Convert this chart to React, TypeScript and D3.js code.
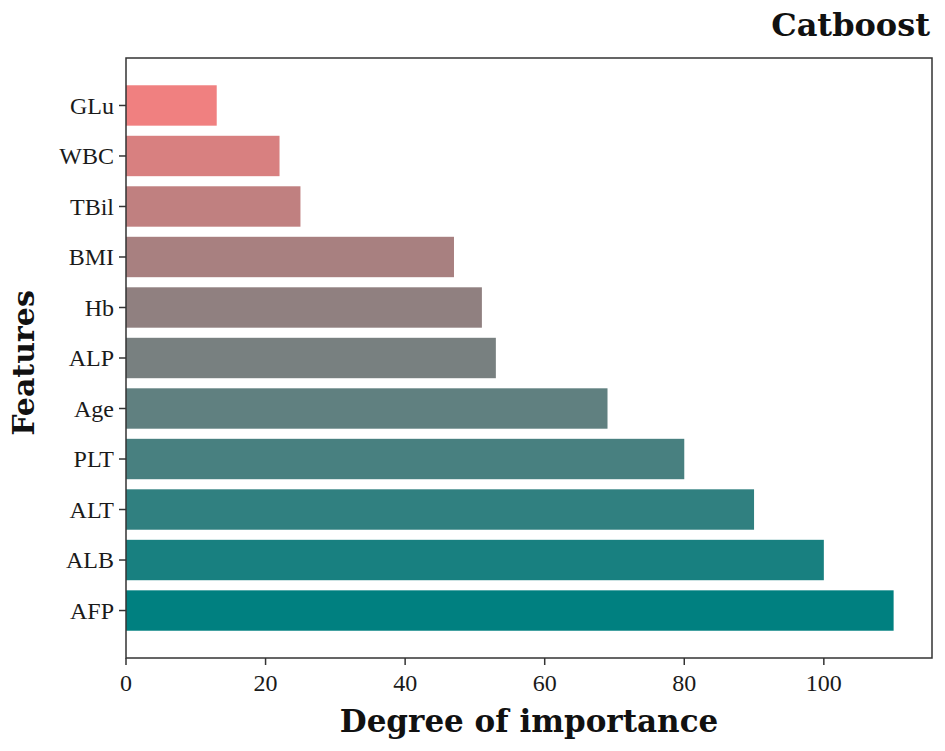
import * as d3 from "d3";

const features = ["GLu", "WBC", "TBil", "BMI", "Hb", "ALP", "Age", "PLT", "ALT", "ALB", "AFP"];
const importance = [13, 22, 25, 47, 51, 53, 69, 80, 90, 100, 110];
const xTicks = [0, 20, 40, 60, 80, 100];

const width = 945;
const height = 751;
const margin = { top: 58, right: 13, bottom: 93, left: 126 };

export default function App() {
  const innerW = width - margin.left - margin.right;
  const innerH = height - margin.top - margin.bottom;

  const maxVal = d3.max(importance) ?? 0;
  const x = d3.scaleLinear().domain([0, maxVal * 1.05]).range([0, innerW]);

  // matplotlib-like y: index 0 at bottom (AFP), bars of height 0.8 with 5% margins
  const n = features.length;
  const lo = -0.4 - 0.05 * (n - 1 + 0.8);
  const hi = n - 1 + 0.4 + 0.05 * (n - 1 + 0.8);
  const y = d3.scaleLinear().domain([lo, hi]).range([innerH, 0]);
  const bandH = y(0) - y(0.8);

  const color = d3.interpolateRgb("#008080", "#F08080");

  const serif = "'Liberation Serif', 'Times New Roman', serif";
  const boldSerif = "'DejaVu Serif', serif";

  return (
    <svg
      width={width}
      height={height}
      style={{ position: "absolute", left: 0, top: 0, background: "#fff" }}
    >
      <text
        x={margin.left + innerW - 2}
        y={36}
        textAnchor="end"
        fontFamily={boldSerif}
        fontWeight="bold"
        fontSize={32}
        fill="#111"
      >
        Catboost
      </text>
      <g transform={`translate(${margin.left},${margin.top})`}>
        {features.map((f, i) => {
          const idx = n - 1 - i;
          return (
            <rect
              key={f}
              x={x(0)}
              y={y(idx + 0.4)}
              width={x(importance[i]) - x(0)}
              height={bandH}
              fill={color(idx / (n - 1))}
            />
          );
        })}
        <rect
          x={0}
          y={0}
          width={innerW}
          height={innerH}
          fill="none"
          stroke="#333"
          strokeWidth={1.5}
        />
        {features.map((f, i) => {
          const idx = n - 1 - i;
          return (
            <g key={f} transform={`translate(0,${y(idx)})`}>
              <line x1={-7} x2={0} stroke="#333" strokeWidth={1.5} />
              <text
                x={-12}
                dy="0.35em"
                textAnchor="end"
                fontFamily={serif}
                fontSize={24}
                fill="#1a1a1a"
              >
                {f}
              </text>
            </g>
          );
        })}
        {xTicks.map((t) => (
          <g key={t} transform={`translate(${x(t)},${innerH})`}>
            <line y1={0} y2={7} stroke="#333" strokeWidth={1.5} />
            <text
              y={33}
              textAnchor="middle"
              fontFamily={serif}
              fontSize={24}
              fill="#1a1a1a"
            >
              {t}
            </text>
          </g>
        ))}
        <text
          x={innerW / 2}
          y={innerH + 74}
          textAnchor="middle"
          fontFamily={boldSerif}
          fontWeight="bold"
          fontSize={31}
          fill="#111"
        >
          Degree of importance
        </text>
      </g>
      <text
        transform={`translate(34,${margin.top + 305}) rotate(-90)`}
        textAnchor="middle"
        fontFamily={boldSerif}
        fontWeight="bold"
        fontSize={30}
        fill="#111"
      >
        Features
      </text>
    </svg>
  );
}
